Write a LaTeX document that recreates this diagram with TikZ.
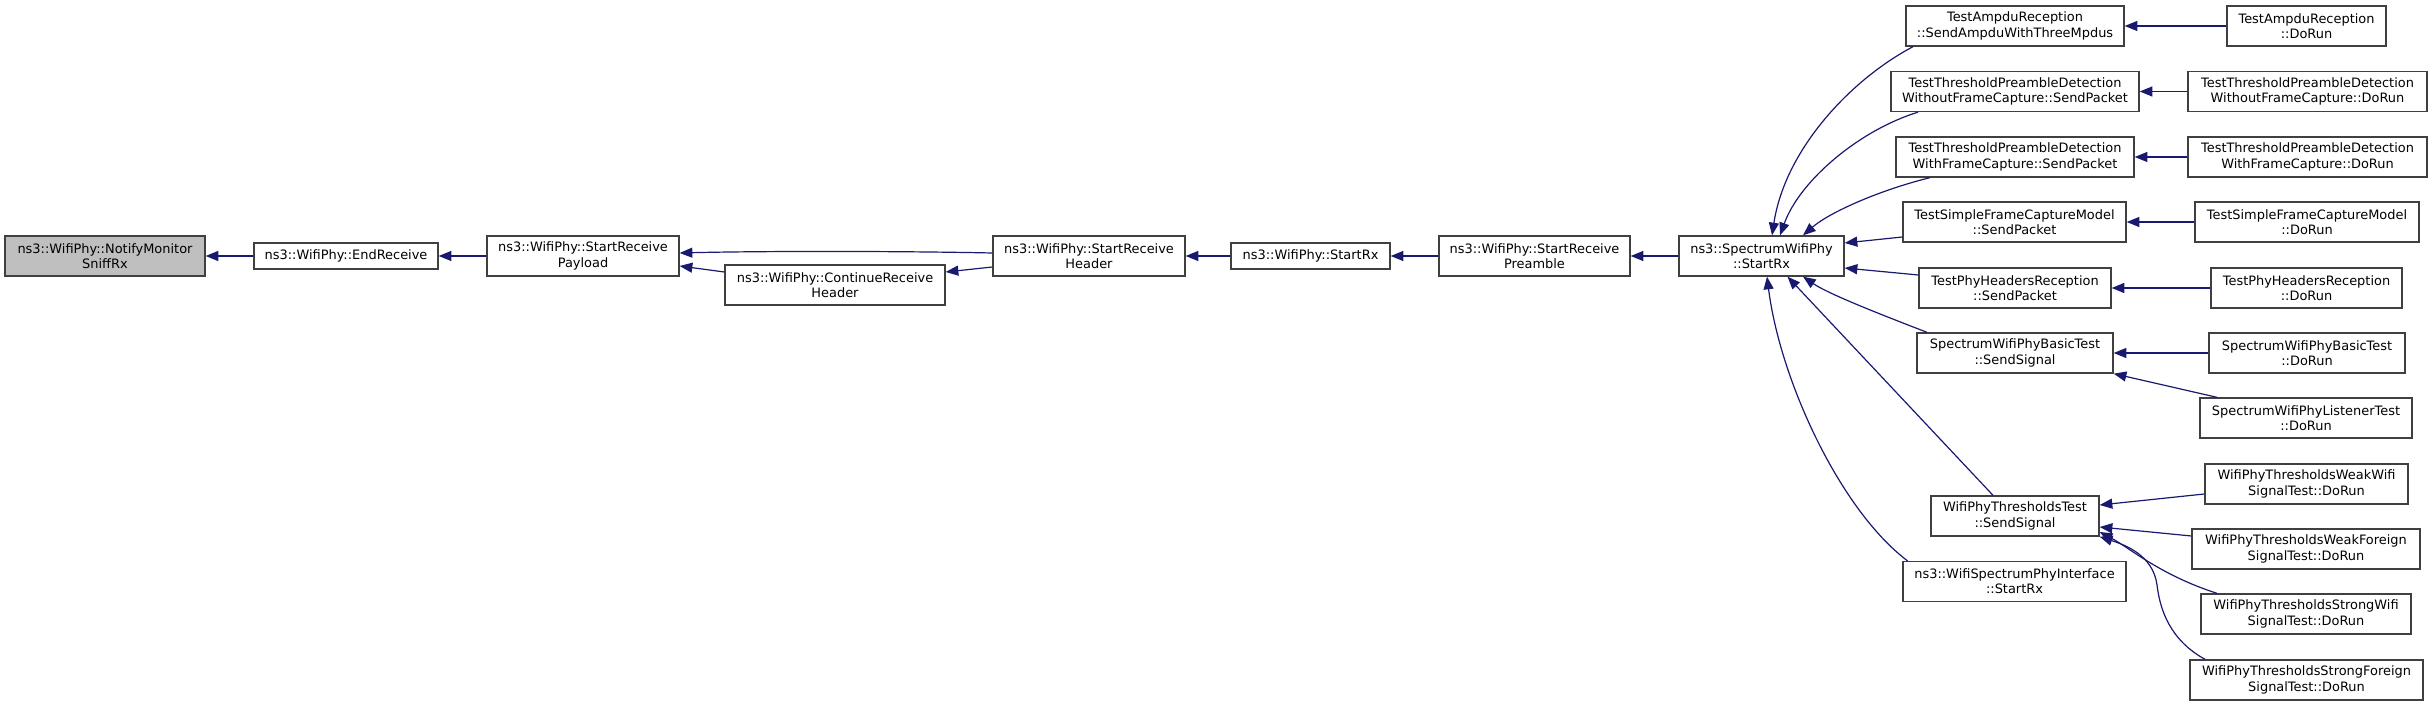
\documentclass[tikz,border=0pt]{standalone}
\usepackage{fontspec}
\setmainfont{DejaVu Sans}
\usetikzlibrary{arrows.meta,calc}
\definecolor{edgeblue}{HTML}{191970}
\definecolor{nodegray}{HTML}{BFBFBF}
\definecolor{bordergray}{HTML}{404040}
\tikzset{
  fn/.style={draw=bordergray, line width=1pt, fill=white, inner sep=0pt, align=center,
    font=\fontsize{9.7}{11.5}\selectfont, minimum height=30pt},
  fnone/.style={fn, minimum height=19.5pt},
  bw/.style={minimum width=#1*0.75pt},
  edge/.style={draw=edgeblue, line width=0.9pt, -{Triangle[length=9.5pt,width=7.5pt]}}
}
\begin{document}
\begin{tikzpicture}[x=0.75pt,y=-0.75pt]
\useasboundingbox (0,0) rectangle (2429,705);
% main chain
\node[fn, bw=200, fill=nodegray] (nm) at (105,256) {ns3::WifiPhy::NotifyMonitor\\SniffRx};
\node[fnone, bw=184] (er) at (346,256) {ns3::WifiPhy::EndReceive};
\node[fn, bw=192] (srp) at (583,256) {ns3::WifiPhy::StartReceive\\Payload};
\node[fn, bw=220] (crh) at (835,285) {ns3::WifiPhy::ContinueReceive\\Header};
\node[fn, bw=192] (srh) at (1089,256) {ns3::WifiPhy::StartReceive\\Header};
\node[fnone, bw=159] (wsr) at (1310.5,256) {ns3::WifiPhy::StartRx};
\node[fn, bw=191] (spre) at (1534.5,256) {ns3::WifiPhy::StartReceive\\Preamble};
\node[fn, bw=165] (sws) at (1761.5,256) {ns3::SpectrumWifiPhy\\::StartRx};
% senders
\node[fn, bw=218] (ampS) at (2015,26) {TestAmpduReception\\::SendAmpduWithThreeMpdus};
\node[fn, bw=248] (wofS) at (2015,91.5) {TestThresholdPreambleDetection\\WithoutFrameCapture::SendPacket};
\node[fn, bw=238] (wfS) at (2015,157) {TestThresholdPreambleDetection\\WithFrameCapture::SendPacket};
\node[fn, bw=223] (sfS) at (2014.5,222) {TestSimpleFrameCaptureModel\\::SendPacket};
\node[fn, bw=192] (phS) at (2015,288) {TestPhyHeadersReception\\::SendPacket};
\node[fn, bw=196] (btS) at (2015,353) {SpectrumWifiPhyBasicTest\\::SendSignal};
\node[fn, bw=168] (ttS) at (2015,516) {WifiPhyThresholdsTest\\::SendSignal};
\node[fn, bw=223] (wspi) at (2014.5,581.5) {ns3::WifiSpectrumPhyInterface\\::StartRx};
% DoRun
\node[fn, bw=159] (ampD) at (2306.5,26) {TestAmpduReception\\::DoRun};
\node[fn, bw=239] (wofD) at (2307.5,91.5) {TestThresholdPreambleDetection\\WithoutFrameCapture::DoRun};
\node[fn, bw=239] (wfD) at (2307.5,157) {TestThresholdPreambleDetection\\WithFrameCapture::DoRun};
\node[fn, bw=224] (sfD) at (2307,222) {TestSimpleFrameCaptureModel\\::DoRun};
\node[fn, bw=191] (phD) at (2306.5,288) {TestPhyHeadersReception\\::DoRun};
\node[fn, bw=196] (btD) at (2307,353) {SpectrumWifiPhyBasicTest\\::DoRun};
\node[fn, bw=212] (ltD) at (2306,418) {SpectrumWifiPhyListenerTest\\::DoRun};
\node[fn, bw=203] (wwD) at (2306.5,484) {WifiPhyThresholdsWeakWifi\\SignalTest::DoRun};
\node[fn, bw=228] (wfoD) at (2306,549) {WifiPhyThresholdsWeakForeign\\SignalTest::DoRun};
\node[fn, bw=210] (swD) at (2306,614) {WifiPhyThresholdsStrongWifi\\SignalTest::DoRun};
\node[fn, bw=233] (sfoD) at (2306.5,680) {WifiPhyThresholdsStrongForeign\\SignalTest::DoRun};

% main chain edges
\draw[edge] (er.west) -- (nm.east);
\draw[edge] (srp.west) -- (er.east);
\draw[edge] ($(srh.west)+(0,-3)$) .. controls (900,251) and (760,251) .. ($(srp.east)+(0,-3)$);
\draw[edge] ($(crh.west)+(0,-13)$) -- ($(srp.east)+(0,10)$);
\draw[edge] ($(srh.west)+(0,11)$) -- ($(crh.east)+(0,-13)$);
\draw[edge] (wsr.west) -- (srh.east);
\draw[edge] (spre.west) -- (wsr.east);
\draw[edge] (sws.west) -- (spre.east);

% senders to SpectrumWifiPhy::StartRx
\draw[edge] ($(ampS.south)+(-102,0)$) .. controls (1850,80) and (1785,150) .. ($(sws.north)+(10.5,0)$);
\draw[edge] ($(wofS.south)+(-97,0)$) .. controls (1860,130) and (1800,180) .. ($(sws.north)+(18.5,0)$);
\draw[edge] ($(wfS.south)+(-85,0)$) .. controls (1880,190) and (1830,212) .. ($(sws.north)+(41.5,0)$);
\draw[edge] ($(sfS.west)+(0,15)$) -- ($(sws.east)+(0,-13)$);
\draw[edge] ($(phS.west)+(0,-13)$) -- ($(sws.east)+(0,12)$);
\draw[edge] ($(btS.north)+(-88,0)$) .. controls (1890,318) and (1830,295) .. ($(sws.south)+(41.5,0)$);
\draw[edge] ($(ttS.north)+(-22,0)$) -- ($(sws.south)+(26,0)$);
\draw[edge] ($(wspi.north)+(-107,0)$) .. controls (1840,510) and (1780,380) .. ($(sws.south)+(5.5,0)$);

% DoRun to senders
\draw[edge] (ampD.west) -- (ampS.east);
\draw[edge] (wofD.west) -- (wofS.east);
\draw[edge] (wfD.west) -- (wfS.east);
\draw[edge] (sfD.west) -- (sfS.east);
\draw[edge] (phD.west) -- (phS.east);
\draw[edge] (btD.west) -- (btS.east);
\draw[edge] ($(ltD.north)+(-89,0)$) -- (btS.south east);
\draw[edge] ($(wwD.west)+(0,10)$) -- ($(ttS.east)+(0,-11)$);
\draw[edge] ($(wfoD.west)+(0,-13)$) -- ($(ttS.east)+(0,11)$);
\draw[edge] ($(swD.north)+(-89,0)$) .. controls (2160,575) and (2130,548) .. ($(ttS.east)+(0,16)$);
\draw[edge] ($(sfoD.north)+(-101.5,0)$) .. controls (2170,640) and (2160,610) .. (2157,585) .. controls (2153,555) and (2125,545) .. (ttS.south east);
\end{tikzpicture}
\end{document}
